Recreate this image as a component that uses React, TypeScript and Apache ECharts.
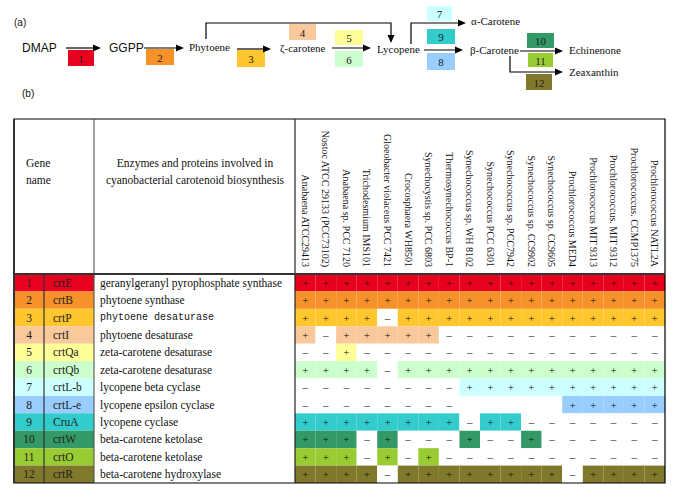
import React, { useEffect, useRef } from "react";
import * as echarts from "echarts";

const organisms = [
  "Anabaena ATCC29413",
  "Nostoc ATCC 29133 (PCC73102)",
  "Anabaena sp. PCC 7120",
  "Trichodesmium IMS101",
  "Gloeobacter violaceus PCC 7421",
  "Crocosphaera WH8501",
  "Synechocystis sp. PCC 6803",
  "Thermosynechococcus BP-1",
  "Synechococcus sp. WH 8102",
  "Synechococcus PCC 6301",
  "Synechococcus sp. PCC7942",
  "Synechococcus sp. CC9902",
  "Synechococcus sp. CC9605",
  "Prochlorococcus MED4",
  "Prochlorococcus MIT 9313",
  "Prochlorococcus. MIT 9312",
  "Prochlorococcus. CCMP1375",
  "Prochlorococcus NATL2A",
];

const geneNumbers = ["1", "2", "3", "4", "5", "6", "7", "8", "9", "10", "11", "12"];
const geneNames = ["crtE", "crtB", "crtP", "crtI", "crtQa", "crtQb", "crtL-b", "crtL-e", "CruA", "crtW", "crtO", "crtR"];
const enzymes = [
  "geranylgeranyl pyrophosphate synthase",
  "phytoene synthase",
  "phytoene desaturase",
  "phytoene desaturase",
  "zeta-carotene desaturase",
  "zeta-carotene desaturase",
  "lycopene beta cyclase",
  "lycopene epsilon cyclase",
  "lycopene cyclase",
  "beta-carotene ketolase",
  "beta-carotene ketolase",
  "beta-carotene hydroxylase",
];

// '+' present, '-' absent, ' ' not listed
const presence = [
  "++++++++++++++++++",
  "++++++++++++++++++",
  "++++-+++++++++++++",
  "+-+++++-----------",
  "--+---------------",
  "++++-+++++++++++++",
  "--------++++++++++",
  "--------     +++++",
  "++++++++-++-------",
  "+++-+---+--+------",
  "+++-+-+-----------",
  "++++-++++++++-++++",
];

// pathway diagram labels
const pathwayNodes = ["DMAP", "GGPP", "Phytoene", "ζ-carotene", "Lycopene", "α-Carotene", "β-Carotene", "Echinenone", "Zeaxanthin"];

const rowColors = [
  "#E8001F", "#F7922A", "#FFC62E", "#F9C89B", "#FFFF99", "#CCFFCC",
  "#CCFFFF", "#99CCFF", "#33CCCC", "#339966", "#99CC33", "#80782A",
];

const SERIF = "Liberation Serif";
const SANS = "Liberation Sans";

function txt(text: string, x: number, y: number, size: number, family: string, align = "left", extra: any = {}) {
  return {
    type: "text",
    x,
    y,
    z: 100,
    style: { text, fill: "#111", fontSize: size, fontFamily: family, align, verticalAlign: "middle", ...extra },
  };
}

function hline(x1: number, x2: number, y: number, w = 1, color = "#000") {
  return { type: "line", z: 100, shape: { x1, y1: y, x2, y2: y }, style: { stroke: color, lineWidth: w } };
}
function vline(x: number, y1: number, y2: number, w = 1, color = "#000") {
  return { type: "line", z: 100, shape: { x1: x, y1, x2: x, y2 }, style: { stroke: color, lineWidth: w } };
}
function headRight(x: number, y: number) {
  return { type: "polygon", z: 100, shape: { points: [[x - 8, y - 3.5], [x, y], [x - 8, y + 3.5]] }, style: { fill: "#000" } };
}
function headDown(x: number, y: number) {
  return { type: "polygon", z: 100, shape: { points: [[x - 3.5, y - 8], [x, y], [x + 3.5, y - 8]] }, style: { fill: "#000" } };
}
function arrowR(x1: number, x2: number, y: number) {
  return [hline(x1, x2 - 6, y, 1.2), headRight(x2, y)];
}
function box(n: number, x: number, y: number, w: number, h: number) {
  return [
    { type: "rect", z: 90, shape: { x, y, width: w, height: h }, style: { fill: rowColors[n - 1] } },
    txt(String(n), x + w / 2, y + h / 2 + 0.5, 11, SERIF, "center", { fill: "#222" }),
  ];
}

export default function App() {
  const ref = useRef<HTMLDivElement>(null);
  useEffect(() => {
    if (!ref.current) return;
    const chart = echarts.init(ref.current, null, { renderer: "svg" });

    const cells: number[][] = [];
    presence.forEach((row, r) => {
      for (let c = 0; c < organisms.length; c++) cells.push([c, r]);
    });
    const rows = geneNames.map((_, r) => [0, r]);

    const graphics: any[] = [
      txt("(a)", 14, 22, 10, SANS),
      txt("(b)", 22, 93, 10, SANS),
      txt(pathwayNodes[0], 22, 48, 12, SANS),
      ...arrowR(66, 101, 48),
      ...box(1, 68, 50, 26, 16),
      txt(pathwayNodes[1], 109, 48, 12, SANS),
      ...arrowR(144, 184, 48),
      ...box(2, 146, 49, 28, 16),
      txt(pathwayNodes[2], 189, 47, 11, SERIF),
      ...arrowR(237, 271, 49),
      ...box(3, 237, 50, 28, 17),
      txt(pathwayNodes[3], 280, 48, 11, SERIF),
      ...box(4, 289, 24, 27, 16),
      { type: "polyline", z: 100, shape: { points: [[206, 39], [206, 23], [391, 23], [391, 37]] }, style: { stroke: "#000", lineWidth: 1.2, fill: null } },
      headDown(391, 43),
      ...arrowR(332, 371, 48),
      ...box(5, 335, 30, 28, 15),
      ...box(6, 335, 51, 28, 16),
      txt(pathwayNodes[4], 377, 49, 11, SERIF),
      ...arrowR(424, 463, 50),
      ...box(7, 427, 6, 25, 15),
      ...box(9, 427, 29, 28, 15),
      ...box(8, 427, 53, 28, 17),
      { type: "polyline", z: 100, shape: { points: [[411, 44], [411, 23], [460, 23]] }, style: { stroke: "#000", lineWidth: 1.2, fill: null } },
      headRight(466, 23),
      txt(pathwayNodes[5], 471, 21, 11, SERIF),
      txt(pathwayNodes[6], 470, 50, 11, SERIF),
      ...arrowR(520, 563, 51),
      ...box(10, 527, 33, 27, 15),
      ...box(11, 528, 53, 25, 14),
      txt(pathwayNodes[7], 569, 50, 11, SERIF),
      { type: "polyline", z: 100, shape: { points: [[510, 56], [510, 72], [557, 72]] }, style: { stroke: "#000", lineWidth: 1.2, fill: null } },
      headRight(563, 72),
      txt(pathwayNodes[8], 569, 72, 11, SERIF),
      ...box(12, 526, 74, 26, 16),
      // table frame
      { type: "rect", z: 100, shape: { x: 14, y: 119, width: 651, height: 364 }, style: { fill: null, stroke: "#000", lineWidth: 1.2 } },
      vline(14, 119, 483, 2, "#333"),
      vline(94, 119, 483, 1, "#444"),
      vline(295, 119, 483, 1.2, "#222"),
      vline(44, 274, 483, 1.2, "#333"),
      hline(14, 665, 274, 1.8, "#333"),
      txt("Gene", 26, 163, 11.5, SERIF),
      txt("name", 26, 180, 11.5, SERIF),
      txt("Enzymes and proteins involved in", 195, 163, 11.5, SERIF, "center"),
      txt("cyanobacterial carotenoid biosynthesis", 195, 180, 11.5, SERIF, "center"),
    ];

    chart.setOption({
      animation: false,
      backgroundColor: "#fff",
      grid: { left: 295, top: 274, width: 370, height: 209, containLabel: false, outerBoundsMode: "none" },
      xAxis: {
        type: "category",
        data: organisms,
        position: "top",
        axisLine: { show: false },
        axisTick: { show: false },
        splitLine: { show: false },
        axisLabel: { rotate: 90, margin: 7, interval: 0, fontSize: 10, fontFamily: SERIF, color: "#111" },
      },
      yAxis: {
        type: "category",
        data: geneNames,
        inverse: true,
        show: false,
      },
      series: [
        {
          type: "custom",
          data: cells,
          renderItem: (params: any, api: any) => {
            const c = api.value(0);
            const r = api.value(1);
            const sym = presence[r][c];
            const p = api.coord([c, r]);
            const s = api.size([1, 1]);
            const label = sym === "+" ? "+" : sym === "-" ? "–" : "";
            return {
              type: "group",
              children: [
                {
                  type: "rect",
                  shape: { x: p[0] - s[0] / 2, y: p[1] - s[1] / 2, width: s[0], height: s[1] },
                  style: { fill: sym === "+" ? rowColors[r] : "#fff" },
                },
                {
                  type: "text",
                  x: p[0],
                  y: p[1],
                  style: { text: label, fontSize: 11, fontFamily: SERIF, fill: "#111", align: "center", verticalAlign: "middle" },
                },
              ],
            };
          },
        },
        {
          type: "custom",
          data: rows,
          clip: false,
          renderItem: (params: any, api: any) => {
            const r = api.value(1);
            const p = api.coord([0, r]);
            const s = api.size([1, 1]);
            const top = p[1] - s[1] / 2;
            const mono = r === 2;
            return {
              type: "group",
              children: [
                { type: "rect", shape: { x: 14, y: top, width: 80, height: s[1] }, style: { fill: rowColors[r] } },
                { type: "text", x: 29, y: p[1], style: { text: geneNumbers[r], fontSize: 11.5, fontFamily: SERIF, fill: "#222", align: "center", verticalAlign: "middle" } },
                { type: "text", x: 53, y: p[1], style: { text: geneNames[r], fontSize: 11.5, fontFamily: SERIF, fill: "#222", align: "left", verticalAlign: "middle" } },
                {
                  type: "text",
                  x: 100,
                  y: p[1],
                  style: {
                    text: enzymes[r],
                    fontSize: mono ? 10 : 11.5,
                    fontFamily: mono ? "Liberation Mono" : SERIF,
                    fill: "#111",
                    align: "left",
                    verticalAlign: "middle",
                  },
                },
              ],
            };
          },
        },
      ],
      graphic: graphics,
    });
    return () => chart.dispose();
  }, []);
  return <div ref={ref} style={{ position: "fixed", left: 0, top: 0, width: 678, height: 498, background: "#fff" }} />;
}
